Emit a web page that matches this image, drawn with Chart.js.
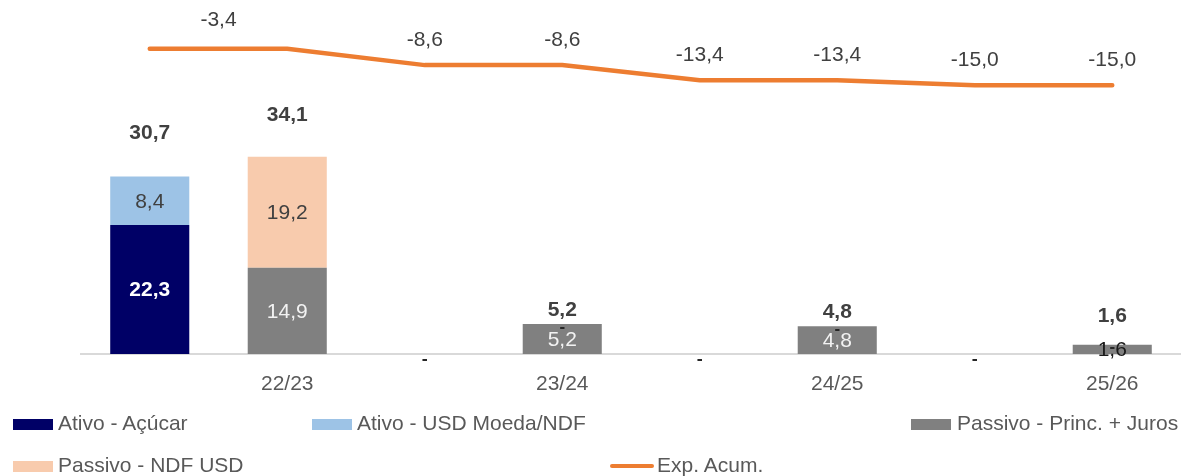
<!DOCTYPE html>
<html>
<head>
<meta charset="utf-8">
<script src="https://cdn.jsdelivr.net/npm/chart.js@4/dist/chart.umd.min.js"></script>
<style>
  body { margin: 0; background: #fff; font-family: 'Liberation Sans', Arial, sans-serif; }
  #wrap { position: relative; width: 1181px; height: 476px; }
  .leg { position: absolute; font-size: 21px; color: #595959; white-space: nowrap; line-height: 20px; }
  .sw { position: absolute; width: 40px; height: 11px; }
  .ln { position: absolute; width: 44px; height: 4px; border-radius: 2px; background: #ED7D31; }
</style>
</head>
<body>
<div id="wrap">
  <canvas id="myChart" width="1181" height="476"></canvas>

  <div class="sw" style="left:13px; top:419px; background:#000066"></div>
  <div class="leg" style="left:58px; top:413px">Ativo - Açúcar</div>
  <div class="sw" style="left:312px; top:419px; background:#9DC3E6"></div>
  <div class="leg" style="left:357px; top:413px">Ativo - USD Moeda/NDF</div>
  <div class="sw" style="left:911px; top:419px; background:#808080"></div>
  <div class="leg" style="left:957px; top:413px">Passivo - Princ. + Juros</div>

  <div class="sw" style="left:13px; top:461px; background:#F8CBAD"></div>
  <div class="leg" style="left:58px; top:455px">Passivo - NDF USD</div>
  <div class="ln" style="left:610px; top:464px"></div>
  <div class="leg" style="left:657px; top:455px">Exp. Acum.</div>
</div>
<script>
// categorias (um rótulo por par ativo/passivo)
const labels = ['', '22/23', '', '23/24', '', '24/25', '', '25/26'];

const ativoAcucar   = [22.3, null, 0, null, 0, null, 0, null];
const ativoUsd      = [8.4, null, 0, null, 0, null, 0, null];
const passivoJuros  = [null, 14.9, null, 5.2, null, 4.8, null, 1.6];
const passivoNdf    = [null, 19.2, null, 0, null, 0, null, 0];
const totais        = [30.7, 34.1, null, 5.2, null, 4.8, null, 1.6];
const expAcum       = [-3.4, -3.4, -8.6, -8.6, -13.4, -13.4, -15.0, -15.0];

const FONT = "'Liberation Sans', Arial, sans-serif";
const fmt = v => v.toFixed(1).replace('.', ',');

// distancia do total ate o topo da pilha (px)
const totalLift = [43, 42, 0, 14, 0, 14, 0, 29];

const valueLabels = {
    id: 'valueLabels',
    afterDatasetsDraw(chart) {
        const ctx = chart.ctx;
        ctx.save();
        ctx.textAlign = 'center';
        ctx.textBaseline = 'middle';

        const styles = [
            {color: '#ffffff', bold: true},
            {color: '#404040', bold: false},
            {color: '#f2f2f2', bold: false},
            {color: '#404040', bold: false}
        ];

        for (let d = 0; d < 4; d++) {
            const meta = chart.getDatasetMeta(d);
            const data = chart.data.datasets[d].data;
            meta.data.forEach((el, i) => {
                const v = data[i];
                if (v === null || v === undefined) return;
                if (v === 0) {
                    ctx.font = 'bold 17px ' + FONT;
                    ctx.fillStyle = '#262626';
                    if (d < 2) {
                        ctx.fillText('-', el.x, el.base + 5);
                    } else {
                        ctx.fillText('-', el.x, el.y + 3);
                    }
                    return;
                }
                const h = el.base - el.y;
                let col = styles[d].color;
                if (h < 20) col = '#1a1a1a';
                ctx.font = (styles[d].bold ? 'bold ' : '') + '21px ' + FONT;
                ctx.fillStyle = col;
                ctx.fillText(fmt(v), el.x, (el.y + el.base) / 2 + 1);
            });
        }

        // totais
        const yScale = chart.scales.y;
        const xScale = chart.scales.x;
        ctx.font = 'bold 21px ' + FONT;
        ctx.fillStyle = '#404040';
        totais.forEach((t, i) => {
            if (t === null) return;
            ctx.fillText(fmt(t), xScale.getPixelForValue(i), yScale.getPixelForValue(t) - totalLift[i]);
        });

        // linha
        const lm = chart.getDatasetMeta(4);
        ctx.font = '21px ' + FONT;
        ctx.fillStyle = '#404040';
        lm.data.forEach((pt, i) => {
            if (i === 0) return;
            let x = pt.x, y = pt.y - 25;
            if (i === 1) {
                x = (lm.data[0].x + pt.x) / 2;
                y = pt.y - 28;
            }
            ctx.fillText(fmt(expAcum[i]), x, y);
        });
        ctx.restore();
    }
};

const ctx = document.getElementById('myChart').getContext('2d');

const myChart = new Chart(ctx, {
    type: 'bar',
    data: {
        labels: labels,
        datasets: [
            { label: 'Ativo - Açúcar', data: ativoAcucar, backgroundColor: '#000066', order: 2 },
            { label: 'Ativo - USD Moeda/NDF', data: ativoUsd, backgroundColor: '#9DC3E6', order: 2 },
            { label: 'Passivo - Princ. + Juros', data: passivoJuros, backgroundColor: '#808080', order: 2 },
            { label: 'Passivo - NDF USD', data: passivoNdf, backgroundColor: '#F8CBAD', order: 2 },
            {
                label: 'Exp. Acum.',
                type: 'line',
                data: expAcum,
                yAxisID: 'y2',
                borderColor: '#ED7D31',
                borderWidth: 4.5,
                borderCapStyle: 'round',
                pointRadius: 0,
                tension: 0,
                order: 1
            }
        ]
    },
    options: {
        responsive: false,
        animation: false,
        layout: { padding: { left: 81, right: 0, top: 0, bottom: 72 } },
        datasets: {
            bar: { barPercentage: 0.575, categoryPercentage: 1.0 }
        },
        scales: {
            x: {
                stacked: true,
                grid: { display: false },
                border: { display: true, color: '#d9d9d9', width: 2 },
                ticks: {
                    color: '#595959',
                    font: { size: 21, family: FONT },
                    padding: 10,
                    autoSkip: false,
                    maxRotation: 0
                },
                afterFit: s => { s.height = 50; }
            },
            y: {
                stacked: true,
                display: false,
                min: 0,
                max: 61.2
            },
            y2: {
                display: false,
                min: -100,
                max: 12
            }
        },
        plugins: {
            legend: { display: false },
            tooltip: { enabled: false }
        }
    },
    plugins: [valueLabels]
});
</script>
</body>
</html>
